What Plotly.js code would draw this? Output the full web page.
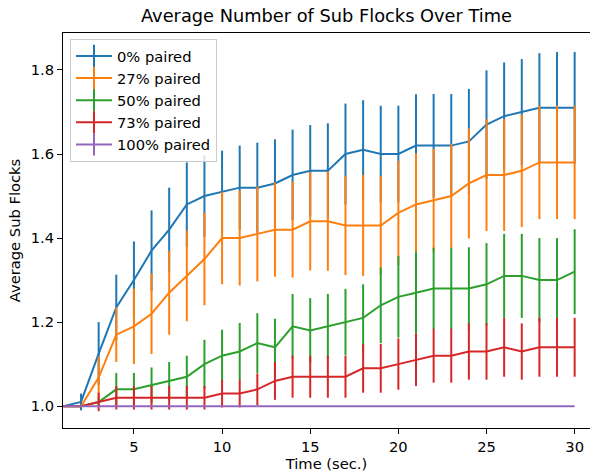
<!DOCTYPE html>
<html>
<head>
<meta charset="utf-8">
<script src="https://cdn.plot.ly/plotly-3.0.1.min.js"></script>
<style>html,body{margin:0;padding:0;overflow:hidden;background:#fff;}</style>
</head>
<body>
<div id="chart" style="width:590px;height:472px;"></div>
<script>
const time = [1,2,3,4,5,6,7,8,9,10,11,12,13,14,15,16,17,18,19,20,21,22,23,24,25,26,27,28,29,30];

const seriesNames = ["0% paired", "27% paired", "50% paired", "73% paired", "100% paired"];
const seriesColors = ["#1f77b4", "#ff7f0e", "#2ca02c", "#d62728", "#9467bd"];

const paired0 = [1.0,1.01,1.125,1.235,1.30,1.37,1.42,1.48,1.50,1.51,1.52,1.52,1.53,1.55,1.56,1.56,1.60,1.61,1.60,1.60,1.62,1.62,1.62,1.63,1.67,1.69,1.70,1.71,1.71,1.71];
const paired0Err = [0,0.02,0.075,0.078,0.092,0.096,0.10,0.10,0.097,0.098,0.10,0.107,0.105,0.108,0.109,0.113,0.12,0.118,0.115,0.115,0.122,0.123,0.123,0.125,0.129,0.128,0.126,0.13,0.133,0.133];

const paired27 = [1.0,1.0,1.068,1.17,1.19,1.22,1.27,1.31,1.35,1.40,1.40,1.41,1.42,1.42,1.44,1.44,1.43,1.43,1.43,1.46,1.48,1.49,1.50,1.53,1.55,1.55,1.56,1.58,1.58,1.58];
const paired27Err = [0,0,0.05,0.065,0.09,0.096,0.10,0.108,0.11,0.11,0.113,0.113,0.112,0.114,0.117,0.118,0.118,0.12,0.118,0.124,0.122,0.122,0.124,0.131,0.133,0.133,0.134,0.135,0.135,0.135];

const paired50 = [1.0,1.0,1.01,1.04,1.04,1.05,1.06,1.07,1.10,1.12,1.13,1.15,1.14,1.19,1.18,1.19,1.20,1.21,1.24,1.26,1.27,1.28,1.28,1.28,1.29,1.31,1.31,1.30,1.30,1.32];
const paired50Err = [0,0,0.01,0.039,0.039,0.042,0.045,0.05,0.058,0.062,0.068,0.071,0.068,0.077,0.077,0.077,0.079,0.08,0.09,0.097,0.098,0.097,0.097,0.098,0.098,0.1,0.1,0.1,0.1,0.101];

const paired73 = [1.0,1.0,1.01,1.02,1.02,1.02,1.02,1.02,1.02,1.03,1.03,1.04,1.06,1.07,1.07,1.07,1.07,1.09,1.09,1.10,1.11,1.12,1.12,1.13,1.13,1.14,1.13,1.14,1.14,1.14];
const paired73Err = [0,0,0.022,0.028,0.028,0.028,0.028,0.028,0.028,0.033,0.033,0.038,0.045,0.05,0.05,0.05,0.05,0.058,0.058,0.061,0.062,0.064,0.064,0.067,0.067,0.07,0.067,0.07,0.07,0.07];

const paired100 = [1.0,1.0,1.0,1.0,1.0,1.0,1.0,1.0,1.0,1.0,1.0,1.0,1.0,1.0,1.0,1.0,1.0,1.0,1.0,1.0,1.0,1.0,1.0,1.0,1.0,1.0,1.0,1.0,1.0,1.0];
const paired100Err = [0,0,0,0,0,0,0,0,0,0,0,0,0,0,0,0,0,0,0,0,0,0,0,0,0,0,0,0,0,0];

const seriesValues = [paired0, paired27, paired50, paired73, paired100];
const seriesErrors = [paired0Err, paired27Err, paired50Err, paired73Err, paired100Err];

const FONT = "DejaVu Sans, Arial, sans-serif";
const FS = 14.7;
const traces = [];
for (let i = 0; i < seriesNames.length; i++) {
  traces.push({
    type: "scatter",
    mode: "lines",
    x: time,
    y: seriesValues[i],
    name: seriesNames[i],
    showlegend: false,
    line: {color: seriesColors[i], width: 2},
    error_y: {type: "data", array: seriesErrors[i], visible: true, color: seriesColors[i], thickness: 2, width: 0}
  });
}
// legend entries (line + vertical bar handle like matplotlib errorbar)
for (let i = 0; i < seriesNames.length; i++) {
  traces.push({
    type: "scatter",
    mode: "lines+markers",
    x: [null],
    y: [null],
    name: seriesNames[i],
    showlegend: true,
    line: {color: seriesColors[i], width: 2},
    marker: {symbol: "line-ns-open", size: 16, color: seriesColors[i], line: {color: seriesColors[i], width: 2}}
  });
}

const layout = {
  width: 590,
  height: 472,
  margin: {l: 63, r: 0, t: 33, b: 44, pad: 0},
  paper_bgcolor: "#ffffff",
  plot_bgcolor: "#ffffff",
  font: {family: FONT, size: FS, color: "#000000"},
  title: {text: "Average Number of Sub Flocks Over Time", font: {family: FONT, size: 17.8, color: "#000"},
          x: 0.5, xref: "paper", xanchor: "center", y: 1 - 16/472, yref: "container", yanchor: "middle"},
  xaxis: {
    range: [0.977, 30.87],
    tickvals: [5, 10, 15, 20, 25, 30],
    ticktext: ["5", "10", "15", "20", "25", "30"],
    ticks: "outside", ticklen: 5, tickwidth: 1, tickcolor: "#000",
    showgrid: false, zeroline: false,
    showline: true, linecolor: "#000", linewidth: 1, mirror: true,
    tickfont: {family: FONT, size: FS, color: "#000"},
    title: {text: "Time (sec.)", font: {family: FONT, size: FS, color: "#000"}, standoff: 3}
  },
  yaxis: {
    range: [0.948, 1.888],
    tickvals: [1.0, 1.2, 1.4, 1.6, 1.8],
    ticktext: ["1.0", "1.2", "1.4", "1.6", "1.8"],
    ticks: "outside", ticklen: 5, tickwidth: 1, tickcolor: "#000",
    showgrid: false, zeroline: false,
    showline: true, linecolor: "#000", linewidth: 1, mirror: false,
    tickfont: {family: FONT, size: FS, color: "#000"},
    title: {text: "Average Sub Flocks", font: {family: FONT, size: FS, color: "#000"}, standoff: 6}
  },
  legend: {
    x: 0.0133, y: 0.985, xanchor: "left", yanchor: "top",
    bgcolor: "rgba(255,255,255,0.8)", bordercolor: "#cccccc", borderwidth: 1,
    font: {family: FONT, size: FS, color: "#000"},
    itemwidth: 36,
    tracegroupgap: 0
  },
  showlegend: true
};

Plotly.newPlot("chart", traces, layout, {staticPlot: true, displayModeBar: false});
</script>
</body>
</html>
